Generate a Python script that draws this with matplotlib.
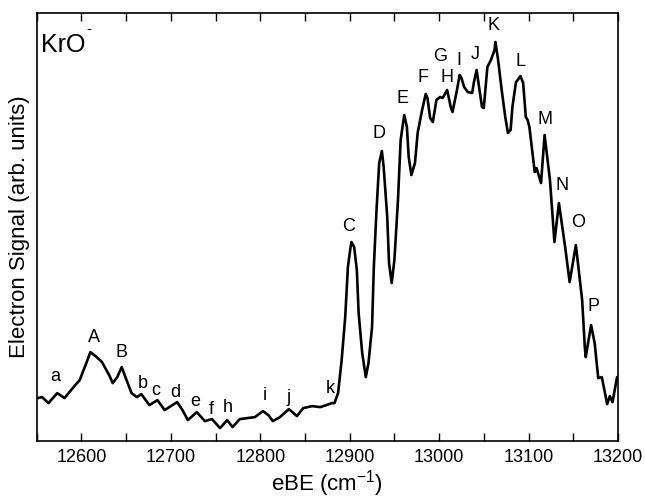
import numpy as np
import matplotlib
matplotlib.use("Agg")
import matplotlib.pyplot as plt
from matplotlib.ticker import MultipleLocator

plt.rcParams['font.family'] = ['Liberation Sans', 'DejaVu Sans']
plt.rcParams['mathtext.fontset'] = 'custom'
plt.rcParams['mathtext.rm'] = 'Liberation Sans'
plt.rcParams['mathtext.it'] = 'Liberation Sans'

# KrO- photoelectron spectrum (eBE in cm-1, signal in arb. units)
ebe = [12551, 12556, 12563, 12573, 12581, 12593, 12598, 12605, 12610, 12617,
       12623, 12626, 12631, 12635, 12640, 12645, 12650, 12656, 12662, 12667,
       12671, 12676, 12685, 12693, 12700, 12707, 12713, 12719, 12729, 12738,
       12746, 12755, 12763, 12769, 12777, 12786, 12794, 12803, 12809, 12814,
       12822, 12832, 12841, 12848, 12858, 12867, 12874, 12880, 12883, 12887,
       12891, 12895, 12898, 12901, 12902, 12905, 12908, 12910, 12914, 12918,
       12921, 12925, 12927, 12930, 12933, 12936, 12938, 12942, 12944, 12947,
       12950, 12954, 12957, 12961, 12964, 12966, 12969, 12973, 12976, 12981,
       12985, 12987, 12990, 12993, 12997, 13001, 13004, 13009, 13013, 13015,
       13020, 13023, 13025, 13028, 13032, 13037, 13039, 13042, 13045, 13048,
       13050, 13052, 13054, 13058, 13062, 13063, 13066, 13070, 13074, 13077,
       13080, 13082, 13086, 13088, 13091, 13094, 13097, 13099, 13101, 13107,
       13109, 13114, 13118, 13124, 13129, 13134, 13141, 13146, 13153, 13160,
       13163, 13164, 13170, 13174, 13178, 13182, 13188, 13191, 13194, 13199]
signal = [43, 44, 38, 48, 43, 56, 61, 77, 89, 84,
          79, 74, 66, 58, 64, 74, 62, 48, 44, 47,
          42, 36, 41, 31, 35, 39, 31, 21, 29, 20,
          22, 13, 21, 14, 22, 23, 24, 30, 26, 20,
          24, 32, 25, 33, 35, 34, 36, 38, 38, 48,
          81, 124, 174, 194, 199, 194, 171, 128, 88, 64,
          78, 114, 174, 231, 278, 290, 274, 224, 178, 158,
          181, 241, 301, 326, 314, 284, 266, 278, 308, 331,
          347, 343, 323, 319, 341, 344, 343, 351, 334, 329,
          351, 366, 363, 354, 349, 348, 359, 371, 352, 334,
          333, 354, 374, 381, 391, 399, 381, 351, 324, 308,
          311, 334, 359, 361, 365, 358, 324, 321, 314, 269,
          273, 258, 306, 261, 199, 238, 194, 159, 196, 141,
          94, 84, 116, 98, 63, 64, 37, 45, 39, 64]

peak_names = ['a', 'A', 'B', 'b', 'c', 'd', 'e', 'f', 'h', 'i', 'j', 'k',
              'C', 'D', 'E', 'F', 'G', 'H', 'I', 'J', 'K', 'L', 'M', 'N', 'O', 'P']
peak_x = [12571, 12614, 12645, 12669, 12683, 12705, 12727, 12745, 12764, 12805, 12832, 12878,
          12899, 12933, 12959, 12982, 13001, 13009, 13022, 13040, 13061, 13091, 13119, 13137,
          13155, 13173]
peak_y = [65, 104, 89, 58, 51, 49, 40, 32, 34, 46, 44, 53,
          215, 308, 343, 363, 384, 363, 380, 386, 415, 379, 322, 256, 219, 135]

fig = plt.figure(figsize=(6.45, 4.99), dpi=100)
ax = fig.add_axes([0.057, 0.116, 0.901, 0.858])
ax.plot(ebe, signal, color='black', lw=1.9, solid_joinstyle='round', solid_capstyle='round')

for name, x, y in zip(peak_names, peak_x, peak_y):
    ax.text(x, y, name, ha='center', va='center', fontsize=13)

# species label with a short superscript dash
ax.text(0.008, 0.925, 'KrO', transform=ax.transAxes, fontsize=18,
        ha='left', va='center')
ax.text(0.086, 0.962, '-', transform=ax.transAxes, fontsize=11,
        ha='left', va='center')

ax.set_xlim(12550, 13200)
ax.set_ylim(0, 428)
ax.xaxis.set_major_locator(MultipleLocator(100))
ax.xaxis.set_minor_locator(MultipleLocator(50))
ax.tick_params(axis='x', which='both', direction='in', top=True, labelsize=13,
               length=6, width=1, pad=6)
ax.set_yticks([])
for s in ax.spines.values():
    s.set_linewidth(1.2)

ax.set_xlabel('eBE (cm$^{-1}$)', fontsize=16, labelpad=1)
ax.set_ylabel('Electron Signal (arb. units)', fontsize=16, labelpad=5)

fig.savefig('out.png', dpi=100)
